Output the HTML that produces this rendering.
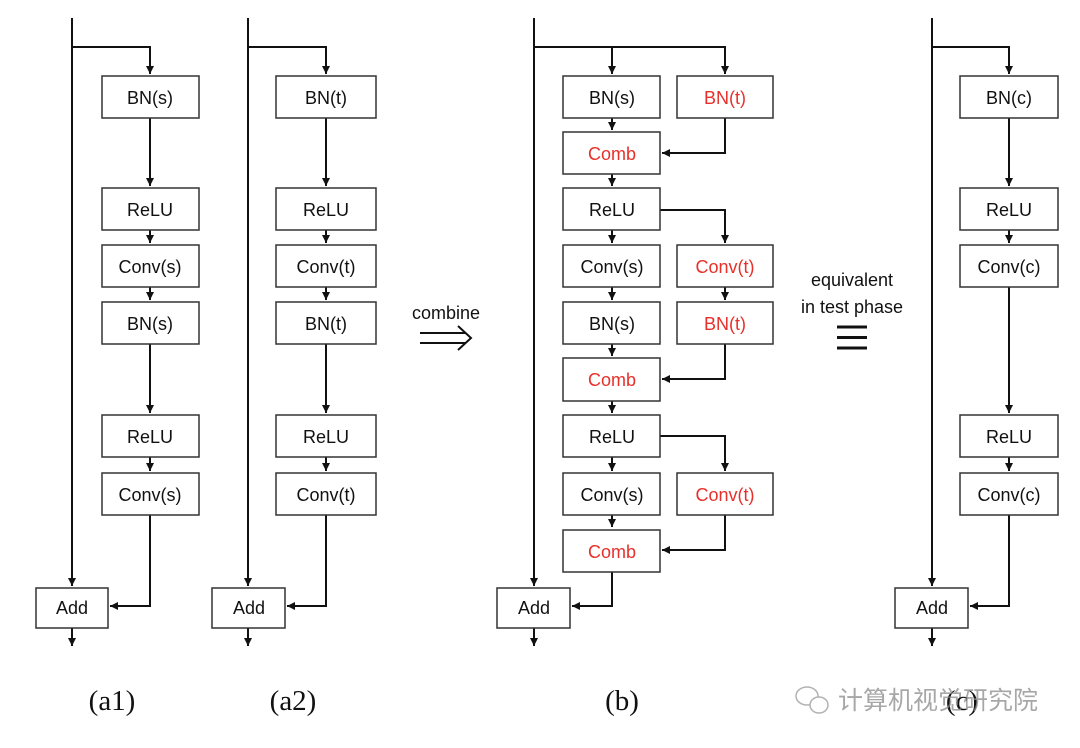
<!DOCTYPE html>
<html><head><meta charset="utf-8"><style>
html,body{margin:0;padding:0;background:#fff;}
svg{display:block;}
.b{fill:#fff;stroke:#333;stroke-width:1.5;}
.t{font-family:"Liberation Sans",sans-serif;font-size:18px;text-anchor:middle;fill:#111;}
.r{fill:#e8302a;}
.l{stroke:#111;stroke-width:2;fill:none;}
.cap{font-family:"Liberation Serif",serif;font-size:29px;text-anchor:middle;fill:#111;}
</style></head><body>
<svg width="1080" height="748" viewBox="0 0 1080 748" xmlns="http://www.w3.org/2000/svg">
<defs>
<marker id="a" markerWidth="10" markerHeight="10" refX="9" refY="5" orient="auto" markerUnits="userSpaceOnUse">
<path d="M1,1 L9,5 L1,9 Z" fill="#111"/></marker>
</defs>

<!-- ===== a1 ===== -->
<g>
<path class="l" d="M72,18 V586" marker-end="url(#a)"/>
<path class="l" d="M72,47 H150 V74" marker-end="url(#a)"/>
<path class="l" d="M150,118 V186" marker-end="url(#a)"/>
<path class="l" d="M150,230 V243" marker-end="url(#a)"/>
<path class="l" d="M150,287 V300" marker-end="url(#a)"/>
<path class="l" d="M150,344 V413" marker-end="url(#a)"/>
<path class="l" d="M150,457 V471" marker-end="url(#a)"/>
<path class="l" d="M150,515 V606 H110" marker-end="url(#a)"/>
<path class="l" d="M72,628 V646" marker-end="url(#a)"/>
<rect class="b" x="102" y="76" width="97" height="42"/><text class="t" x="150" y="104">BN(s)</text>
<rect class="b" x="102" y="188" width="97" height="42"/><text class="t" x="150" y="216">ReLU</text>
<rect class="b" x="102" y="245" width="97" height="42"/><text class="t" x="150" y="273">Conv(s)</text>
<rect class="b" x="102" y="302" width="97" height="42"/><text class="t" x="150" y="330">BN(s)</text>
<rect class="b" x="102" y="415" width="97" height="42"/><text class="t" x="150" y="443">ReLU</text>
<rect class="b" x="102" y="473" width="97" height="42"/><text class="t" x="150" y="501">Conv(s)</text>
<rect class="b" x="36" y="588" width="72" height="40"/><text class="t" x="72" y="614">Add</text>
</g>

<!-- ===== a2 ===== -->
<g>
<path class="l" d="M248,18 V586" marker-end="url(#a)"/>
<path class="l" d="M248,47 H326 V74" marker-end="url(#a)"/>
<path class="l" d="M326,118 V186" marker-end="url(#a)"/>
<path class="l" d="M326,230 V243" marker-end="url(#a)"/>
<path class="l" d="M326,287 V300" marker-end="url(#a)"/>
<path class="l" d="M326,344 V413" marker-end="url(#a)"/>
<path class="l" d="M326,457 V471" marker-end="url(#a)"/>
<path class="l" d="M326,515 V606 H287" marker-end="url(#a)"/>
<path class="l" d="M248,628 V646" marker-end="url(#a)"/>
<rect class="b" x="276" y="76" width="100" height="42"/><text class="t" x="326" y="104">BN(t)</text>
<rect class="b" x="276" y="188" width="100" height="42"/><text class="t" x="326" y="216">ReLU</text>
<rect class="b" x="276" y="245" width="100" height="42"/><text class="t" x="326" y="273">Conv(t)</text>
<rect class="b" x="276" y="302" width="100" height="42"/><text class="t" x="326" y="330">BN(t)</text>
<rect class="b" x="276" y="415" width="100" height="42"/><text class="t" x="326" y="443">ReLU</text>
<rect class="b" x="276" y="473" width="100" height="42"/><text class="t" x="326" y="501">Conv(t)</text>
<rect class="b" x="212" y="588" width="73" height="40"/><text class="t" x="249" y="614">Add</text>
</g>

<!-- combine -->
<text class="t" x="446" y="319">combine</text>
<path class="l" d="M420,333 H466 M420,343 H466"/>
<path class="l" d="M458,326 L471,338 L458,350"/>

<!-- ===== b ===== -->
<g>
<path class="l" d="M534,18 V586" marker-end="url(#a)"/>
<path class="l" d="M534,47 H725 V74" marker-end="url(#a)"/>
<path class="l" d="M612,47 V74" marker-end="url(#a)"/>
<path class="l" d="M612,118 V130" marker-end="url(#a)"/>
<path class="l" d="M725,118 V153 H662" marker-end="url(#a)"/>
<path class="l" d="M612,174 V186" marker-end="url(#a)"/>
<path class="l" d="M660,210 H725 V243" marker-end="url(#a)"/>
<path class="l" d="M612,230 V243" marker-end="url(#a)"/>
<path class="l" d="M612,287 V300" marker-end="url(#a)"/>
<path class="l" d="M725,287 V300" marker-end="url(#a)"/>
<path class="l" d="M612,344 V356" marker-end="url(#a)"/>
<path class="l" d="M725,344 V379 H662" marker-end="url(#a)"/>
<path class="l" d="M612,401 V413" marker-end="url(#a)"/>
<path class="l" d="M660,436 H725 V471" marker-end="url(#a)"/>
<path class="l" d="M612,457 V471" marker-end="url(#a)"/>
<path class="l" d="M612,515 V527" marker-end="url(#a)"/>
<path class="l" d="M725,515 V550 H662" marker-end="url(#a)"/>
<path class="l" d="M612,572 V606 H572" marker-end="url(#a)"/>
<path class="l" d="M534,628 V646" marker-end="url(#a)"/>
<rect class="b" x="563" y="76" width="97" height="42"/><text class="t" x="612" y="104">BN(s)</text>
<rect class="b" x="677" y="76" width="96" height="42"/><text class="t r" x="725" y="104">BN(t)</text>
<rect class="b" x="563" y="132" width="97" height="42"/><text class="t r" x="612" y="160">Comb</text>
<rect class="b" x="563" y="188" width="97" height="42"/><text class="t" x="612" y="216">ReLU</text>
<rect class="b" x="563" y="245" width="97" height="42"/><text class="t" x="612" y="273">Conv(s)</text>
<rect class="b" x="677" y="245" width="96" height="42"/><text class="t r" x="725" y="273">Conv(t)</text>
<rect class="b" x="563" y="302" width="97" height="42"/><text class="t" x="612" y="330">BN(s)</text>
<rect class="b" x="677" y="302" width="96" height="42"/><text class="t r" x="725" y="330">BN(t)</text>
<rect class="b" x="563" y="358" width="97" height="43"/><text class="t r" x="612" y="386">Comb</text>
<rect class="b" x="563" y="415" width="97" height="42"/><text class="t" x="612" y="443">ReLU</text>
<rect class="b" x="563" y="473" width="97" height="42"/><text class="t" x="612" y="501">Conv(s)</text>
<rect class="b" x="677" y="473" width="96" height="42"/><text class="t r" x="725" y="501">Conv(t)</text>
<rect class="b" x="563" y="530" width="97" height="42"/><text class="t r" x="612" y="558">Comb</text>
<rect class="b" x="497" y="588" width="73" height="40"/><text class="t" x="534" y="614">Add</text>
</g>

<!-- equivalent -->
<text class="t" x="852" y="286">equivalent</text>
<text class="t" x="852" y="313">in test phase</text>
<path d="M837,327 H867 M837,337.5 H867 M837,348 H867" stroke="#111" stroke-width="3"/>

<!-- ===== c ===== -->
<g>
<path class="l" d="M932,18 V586" marker-end="url(#a)"/>
<path class="l" d="M932,47 H1009 V74" marker-end="url(#a)"/>
<path class="l" d="M1009,118 V186" marker-end="url(#a)"/>
<path class="l" d="M1009,230 V243" marker-end="url(#a)"/>
<path class="l" d="M1009,287 V413" marker-end="url(#a)"/>
<path class="l" d="M1009,457 V471" marker-end="url(#a)"/>
<path class="l" d="M1009,515 V606 H970" marker-end="url(#a)"/>
<path class="l" d="M932,628 V646" marker-end="url(#a)"/>
<rect class="b" x="960" y="76" width="98" height="42"/><text class="t" x="1009" y="104">BN(c)</text>
<rect class="b" x="960" y="188" width="98" height="42"/><text class="t" x="1009" y="216">ReLU</text>
<rect class="b" x="960" y="245" width="98" height="42"/><text class="t" x="1009" y="273">Conv(c)</text>
<rect class="b" x="960" y="415" width="98" height="42"/><text class="t" x="1009" y="443">ReLU</text>
<rect class="b" x="960" y="473" width="98" height="42"/><text class="t" x="1009" y="501">Conv(c)</text>
<rect class="b" x="895" y="588" width="73" height="40"/><text class="t" x="932" y="614">Add</text>
</g>

<!-- captions -->
<text class="cap" x="112" y="710">(a1)</text>
<text class="cap" x="293" y="710">(a2)</text>
<text class="cap" x="622" y="710">(b)</text>
<text class="cap" x="962" y="710">(c)</text>

<!-- watermark -->
<g opacity="0.75">
<ellipse cx="807" cy="696" rx="11" ry="9" fill="none" stroke="#999" stroke-width="1.5"/>
<ellipse cx="819" cy="705" rx="9" ry="8" fill="#fff" stroke="#999" stroke-width="1.5"/>
<text x="838" y="709" font-family="'Liberation Sans','Noto Sans CJK SC',sans-serif" font-size="25" fill="#8a8a8a">计算机视觉研究院</text>
</g>
</svg>
</body></html>
